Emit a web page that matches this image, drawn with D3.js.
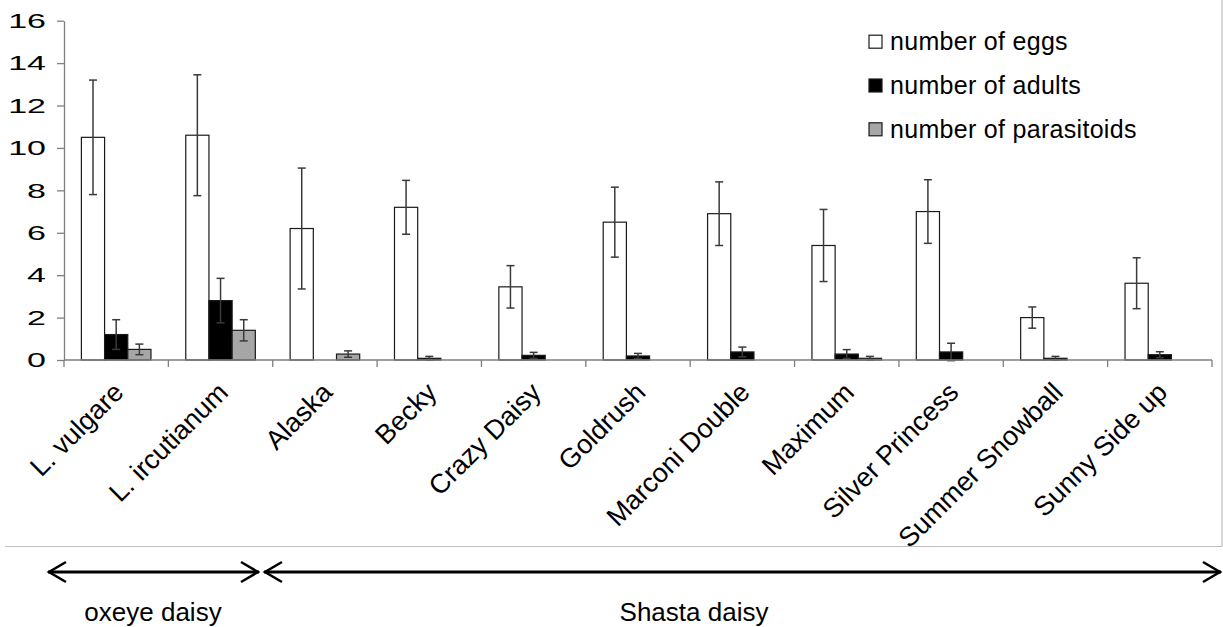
<!DOCTYPE html>
<html><head><meta charset="utf-8">
<script src="https://cdn.jsdelivr.net/npm/d3@7"></script>
<style>
html,body{margin:0;padding:0;background:#fff;}
text{font-family:"Liberation Sans",Arial,sans-serif;fill:#000;}
</style></head>
<body>
<svg id="chart" width="1223" height="627"></svg>
<script>
const categories = ["L. vulgare","L. ircutianum","Alaska","Becky","Crazy Daisy","Goldrush","Marconi Double","Maximum","Silver Princess","Summer Snowball","Sunny Side up"];
const seriesNames = ["number of eggs","number of adults","number of parasitoids"];
const eggs      = [10.5, 10.6, 6.2, 7.2, 3.45, 6.5, 6.9, 5.4, 7.0, 2.0, 3.62];
const eggsErr   = [2.7, 2.85, 2.85, 1.27, 1.0, 1.65, 1.5, 1.7, 1.5, 0.5, 1.2];
const adults    = [1.2, 2.8, 0, 0.08, 0.22, 0.19, 0.38, 0.28, 0.38, 0.08, 0.25];
const adultsErr = [0.7, 1.05, 0, 0.09, 0.14, 0.12, 0.23, 0.21, 0.41, 0.09, 0.14];
const paras     = [0.5, 1.4, 0.28, 0, 0, 0, 0, 0.08, 0, 0, 0];
const parasErr  = [0.25, 0.5, 0.15, 0, 0, 0, 0, 0.09, 0, 0, 0];
const yTicks = [0,2,4,6,8,10,12,14,16];
const groups = [{name:"oxeye daisy", from:0, to:2},{name:"Shasta daisy", from:2, to:11}];

const fills = ["#ffffff","#000000","#a6a6a6"];
const values = [eggs, adults, paras];
const errs = [eggsErr, adultsErr, parasErr];

const svg = d3.select("#chart");
const plotL = 64, plotR = 1212, plotT = 20.7, plotB = 360;

const x0 = d3.scaleBand().domain(categories).range([plotL, plotR]).padding(0);
const x1 = d3.scaleBand().domain(seriesNames).range([0, x0.bandwidth()]).paddingInner(0).paddingOuter(0.75);
const y = d3.scaleLinear().domain([0,16]).range([plotB, plotT]);

// outer frame lines (light gray)
svg.append("line").attr("x1",5).attr("x2",1222).attr("y1",546.5).attr("y2",546.5).attr("stroke","#bfbfbf").attr("stroke-width",1.2);
svg.append("line").attr("x1",1222).attr("x2",1222).attr("y1",0).attr("y2",546.5).attr("stroke","#bfbfbf").attr("stroke-width",1.2);

// bars
const gCat = svg.append("g").selectAll("g").data(categories).join("g")
  .attr("transform", d => `translate(${x0(d)},0)`);
seriesNames.forEach((s, si) => {
  gCat.append("rect")
    .attr("x", x1(s))
    .attr("width", x1.bandwidth())
    .attr("y", (d,i) => y(values[si][i]))
    .attr("height", (d,i) => plotB - y(values[si][i]))
    .attr("fill", fills[si])
    .attr("stroke", "#1a1a1a")
    .attr("stroke-width", 1.2)
    .attr("display", (d,i) => values[si][i] > 0 ? null : "none");
});
// error bars
seriesNames.forEach((s, si) => {
  gCat.each(function(d, i){
    const v = values[si][i], e = errs[si][i];
    if (!(v > 0) || !(e > 0)) return;
    const cx = x1(s) + x1.bandwidth()/2;
    const g = d3.select(this).append("g").attr("stroke","#3a3a3a").attr("stroke-width",1.5);
    g.append("line").attr("x1",cx).attr("x2",cx).attr("y1",y(v+e)).attr("y2",y(v-e));
    g.append("line").attr("x1",cx-4).attr("x2",cx+4).attr("y1",y(v+e)).attr("y2",y(v+e));
    g.append("line").attr("x1",cx-4).attr("x2",cx+4).attr("y1",y(v-e)).attr("y2",y(v-e));
  });
});

// y axis
const yAxis = d3.axisLeft(y).tickValues(yTicks).tickSize(7).tickPadding(12).tickSizeOuter(0);
const gy = svg.append("g").attr("transform",`translate(${plotL},0)`).call(yAxis);
gy.select(".domain").attr("stroke","#7f7f7f").attr("stroke-width",1.3);
gy.selectAll(".tick line").attr("stroke","#7f7f7f").attr("stroke-width",1.3);
gy.selectAll(".tick text").attr("font-size",21).attr("fill","#000")
  .attr("x",0).attr("transform","translate(-18,0) scale(1.62,1)");

// x axis (ticks at band boundaries)
const gx = svg.append("g").attr("transform",`translate(0,${plotB})`);
gx.append("line").attr("x1",plotL).attr("x2",plotR).attr("stroke","#7f7f7f").attr("stroke-width",1.3);
const bounds = categories.map(c => x0(c)).concat([plotR]);
gx.selectAll("line.tk").data(bounds).join("line").attr("class","tk")
  .attr("x1",d=>d).attr("x2",d=>d).attr("y1",0).attr("y2",7)
  .attr("stroke","#7f7f7f").attr("stroke-width",1.3);
gx.selectAll("text").data(categories).join("text")
  .attr("transform", d => `translate(${x0(d)+x0.bandwidth()/2+9},${34}) rotate(-45)`)
  .attr("text-anchor","end")
  .attr("font-size",27)
  .text(d=>d);

// legend
const lg = svg.append("g");
seriesNames.forEach((s, i) => {
  const cy = 41.7 + i*43.8;
  lg.append("rect").attr("x",869).attr("y",cy-6.5).attr("width",13).attr("height",13)
    .attr("fill",fills[i]).attr("stroke","#1a1a1a").attr("stroke-width",1.2);
  lg.append("text").attr("x",890).attr("y",cy+8.5).attr("font-size",25).attr("letter-spacing",0.3).text(s);
});

// group arrows
const arrowY = 572;
const gA = svg.append("g");
function arrow(xa, xb){
  gA.append("line").attr("x1",xa).attr("x2",xb).attr("y1",arrowY).attr("y2",arrowY).attr("stroke","#000").attr("stroke-width",3);
  gA.append("path").attr("d",`M${xa+18},${arrowY-10} L${xa+1},${arrowY} L${xa+18},${arrowY+10}`).attr("fill","none").attr("stroke","#000").attr("stroke-width",2.5);
  gA.append("path").attr("d",`M${xb-18},${arrowY-10} L${xb-1},${arrowY} L${xb-18},${arrowY+10}`).attr("fill","none").attr("stroke","#000").attr("stroke-width",2.5);
}
const gx0 = [48, 264], gx1 = [259, 1221];
groups.forEach((g, i) => {
  arrow(gx0[i], gx1[i]);
});
svg.append("text").attr("x",153).attr("y",621).attr("text-anchor","middle").attr("font-size",26).text(groups[0].name);
svg.append("text").attr("x",694).attr("y",621).attr("text-anchor","middle").attr("font-size",26).text(groups[1].name);
</script>
</body></html>
